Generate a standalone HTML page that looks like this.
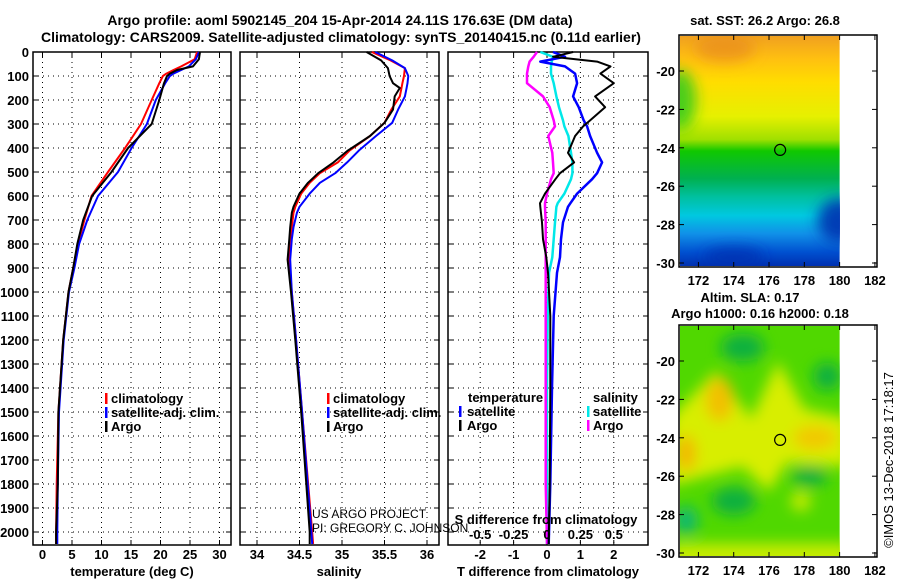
<!DOCTYPE html>
<html><head><meta charset="utf-8">
<style>
html,body{margin:0;padding:0;background:#fff;}
svg{display:block;font-family:"Liberation Sans",Arial,sans-serif;}
.b{font-weight:bold;font-size:13px;}
.n{font-weight:normal;font-size:12px;}
.t{font-weight:bold;font-size:14px;}
</style></head>
<body>
<svg id="fig" width="900" height="580" viewBox="0 0 900 580" xmlns="http://www.w3.org/2000/svg">
<defs>
<linearGradient id="sstg" x1="0" y1="0" x2="0" y2="1">
<stop offset="0" stop-color="#f0a020"/><stop offset="0.1" stop-color="#ffc010"/>
<stop offset="0.2" stop-color="#ffdd00"/><stop offset="0.35" stop-color="#e6f000"/>
<stop offset="0.45" stop-color="#a0e000"/><stop offset="0.5" stop-color="#10c800"/>
<stop offset="0.62" stop-color="#00b050"/><stop offset="0.7" stop-color="#00c0a0"/>
<stop offset="0.78" stop-color="#00c8e0"/><stop offset="0.86" stop-color="#1090e8"/>
<stop offset="0.94" stop-color="#0050d0"/><stop offset="1" stop-color="#0030b0"/>
</linearGradient>
<filter id="blur" x="-20%" y="-20%" width="140%" height="140%"><feGaussianBlur stdDeviation="7"/></filter>
<clipPath id="clip1"><rect x="680" y="36" width="160" height="230"/></clipPath>
<clipPath id="clip2"><rect x="680" y="326" width="160" height="230"/></clipPath>
</defs>
<g id="titles">
<text class="t" x="340" y="25" text-anchor="middle">Argo profile: aoml 5902145_204 15-Apr-2014 24.11S 176.63E (DM data)</text>
<text class="t" x="341" y="42" text-anchor="middle">Climatology: CARS2009. Satellite-adjusted climatology: synTS_20140415.nc (0.11d earlier)</text>
</g>
<g id="plots"></g>
<g id="maps"></g>
</svg>
<script>
// depth levels (dbar) shared by profiles
const depthT = [0,30,60,75,90,100,130,200,300,400,500,600,700,800,900,1000,1200,1500,1800,2000,2050];
const tempClim = [26.2,25.8,23.5,22.2,21.0,20.4,19.8,18.5,16.7,14.0,11.1,8.3,7.1,6.0,5.2,4.4,3.5,2.7,2.4,2.3,2.3];
const tempSat  = [26.5,26.0,24.8,23.5,22.2,21.6,20.8,19.2,17.7,15.1,12.8,9.4,7.6,6.2,5.4,4.5,3.6,2.8,2.6,2.5,2.5];
const tempArgo = [26.7,26.5,25.5,22.8,21.6,21.1,20.6,19.8,18.5,14.5,11.7,8.4,6.9,5.9,5.2,4.4,3.5,2.7,2.6,2.3,2.3];
const depthS = [0,35,67,100,130,150,185,240,295,350,410,460,505,545,590,645,670,730,780,865,1000,1200,1500,2000,2050];
const salClim = [35.35,35.57,35.74,35.73,35.71,35.70,35.68,35.58,35.50,35.33,35.09,34.95,34.74,34.62,34.52,34.45,34.43,34.41,34.39,34.38,34.41,34.46,34.53,34.65,34.66];
const salSat  = [35.39,35.59,35.74,35.78,35.77,35.76,35.74,35.66,35.59,35.40,35.20,35.06,34.92,34.74,34.62,34.50,34.47,34.43,34.41,34.39,34.41,34.46,34.53,34.64,34.65];
const salArgo = [35.29,35.46,35.54,35.56,35.60,35.68,35.62,35.60,35.50,35.33,35.07,34.90,34.72,34.60,34.50,34.43,34.41,34.39,34.38,34.36,34.40,34.45,34.52,34.62,34.62];
const depthD = [0,20,40,60,90,130,185,230,285,310,350,420,460,505,530,590,630,645,710,780,855,920,1100,1400,1800,2050];
const dTSat  = [0.18,0.54,-0.2,0.54,0.84,0.9,0.78,0.95,1.1,1.2,1.29,1.5,1.65,1.5,1.35,0.9,0.7,0.63,0.48,0.42,0.39,0.3,0.2,0.15,0.1,0.05];
const dTArgo = [0.78,0.18,1.5,1.9,1.6,2.0,1.44,1.74,1.29,1.08,0.84,0.63,0.81,0.39,0.25,-0.06,-0.21,-0.2,-0.15,-0.12,-0.02,0.03,0.1,0.1,0.08,0.05];
const dSSat  = [-0.05,0.045,0.035,0.03,0.03,0.05,0.07,0.09,0.12,0.13,0.16,0.18,0.19,0.19,0.18,0.13,0.08,0.07,0.06,0.05,0.04,0.015,0.005,0,0,0];
const dSArgo = [-0.075,-0.1,-0.13,-0.14,-0.15,-0.15,-0.03,0.02,0.05,0.06,0.01,0.04,0.045,0.05,0.03,0.0,-0.015,-0.015,-0.01,-0.01,-0.01,-0.01,-0.01,-0.01,-0.01,0];
const depthTicks = [0,100,200,300,400,500,600,700,800,900,1000,1100,1200,1300,1400,1500,1600,1700,1800,1900,2000];
const tempTicks = [0,5,10,15,20,25,30];
const salTicks = [34,34.5,35,35.5,36];
const salTickLabels = ["34","34.5","35","35.5","36"];
const dTTicks = [-2,-1,0,1,2];
const dSTicks = [-0.5,-0.25,0,0.25,0.5];
const dSTickLabels = ["-0.5","-0.25","0","0.25","0.5"];
const lonTicks = [172,174,176,178,180,182];
const latTicks = [-20,-22,-24,-26,-28,-30];
const argoLon = 176.63, argoLat = -24.11;

const NS="http://www.w3.org/2000/svg";
function mk(tag,attrs,parent){const e=document.createElementNS(NS,tag);for(const k in attrs)e.setAttribute(k,attrs[k]);parent.appendChild(e);return e;}
const plots=document.getElementById('plots');
const yD = d => 52 + d*0.24;
const PT=52, PB=545;

function panel(name,x0,x1,xfun,ticks,labels){
  const g=mk('g',{},plots);
  
  
  ticks.forEach(t=>{const x=xfun(t);mk('line',{x1:x,x2:x,y1:PT,y2:PB,stroke:'#000','stroke-width':1,'stroke-dasharray':'1,4'},g);});
  depthTicks.forEach(d=>{const y=yD(d);mk('line',{x1:x0,x2:x1,y1:y,y2:y,stroke:'#000','stroke-width':1,'stroke-dasharray':'1,4'},g);
    mk('line',{x1:x0,x2:x0+5,y1:y,y2:y,stroke:'#000'},g);mk('line',{x1:x1-5,x2:x1,y1:y,y2:y,stroke:'#000'},g);});
  ticks.forEach(t=>{const x=xfun(t);mk('line',{x1:x,x2:x,y1:PB-5,y2:PB,stroke:'#000'},g);mk('line',{x1:x,x2:x,y1:PT,y2:PT+5,stroke:'#000'},g);});
  const r=mk('rect',{x:x0,y:PT,width:x1-x0,height:PB-PT,fill:'none',stroke:'#000','stroke-width':1.5},g);
  
  
  ticks.forEach((t,i)=>{const tx=mk('text',{x:xfun(t),y:559,'text-anchor':'middle',class:'b'},g);tx.textContent=labels[i];
    
    });
  return g;
}
function line(g,xs,ds,xfun,col,w,name){
  const pts=xs.map((v,i)=>xfun(v).toFixed(1)+','+yD(ds[i]).toFixed(1)).join(' ');
  const p=mk('polyline',{points:pts,fill:'none',stroke:col,'stroke-width':w,'stroke-linejoin':'round'},g);
  
  
}
function txt(g,x,y,s,cls,anchor,name,extra){const t=mk('text',Object.assign({x:x,y:y,class:cls,'text-anchor':anchor||'start'},extra||{}),g);t.textContent=s;
  
  return t;}
function legendMark(g,x,y,col,name){const r=mk('rect',{x:x,y:y-10,width:2.5,height:11,fill:col},g);
  
  }

// Panel 1: temperature
const xT = t => 42.5 + t*5.9;
const g1=panel('temperature-panel',33,231,xT,tempTicks,tempTicks.map(String));
depthTicks.forEach(d=>txt(g1,29,yD(d)+5,String(d),'b','end','y-tick-label'));
line(g1,tempClim,depthT,xT,'#f00',2,'temperature-climatology-line');
line(g1,tempSat,depthT,xT,'#00f',2,'temperature-satellite-line');
line(g1,tempArgo,depthT,xT,'#000',2,'temperature-argo-line');
txt(g1,132,576,'temperature (deg C)','b','middle','x-axis-title-temperature');
legendMark(g1,105,403,'#f00','legend-climatology-mark');txt(g1,111,403,'climatology','b','start','legend-climatology');
legendMark(g1,105,417,'#00f','legend-satellite-mark');txt(g1,111,417,'satellite-adj. clim.','b','start','legend-satellite');
legendMark(g1,105,431,'#000','legend-argo-mark');txt(g1,111,431,'Argo','b','start','legend-argo');

// Panel 2: salinity
const xS = s => 257 + (s-34)*85;
const g2=panel('salinity-panel',240,439,xS,salTicks,salTickLabels);
line(g2,salClim,depthS,xS,'#f00',2,'salinity-climatology-line');
line(g2,salSat,depthS,xS,'#00f',2,'salinity-satellite-line');
line(g2,salArgo,depthS,xS,'#000',2,'salinity-argo-line');
txt(g2,339,576,'salinity','b','middle','x-axis-title-salinity');
legendMark(g2,327,403,'#f00','legend-climatology-mark');txt(g2,333,403,'climatology','b','start','legend-climatology');
legendMark(g2,327,417,'#00f','legend-satellite-mark');txt(g2,333,417,'satellite-adj. clim.','b','start','legend-satellite');
legendMark(g2,327,431,'#000','legend-argo-mark');txt(g2,333,431,'Argo','b','start','legend-argo');

// Panel 3: differences
const xdT = v => 547 + v*33.4;
const xdS = v => 547 + v*133.6;
const g3=panel('difference-panel',448,648,xdT,dTTicks,dTTicks.map(String));
line(g3,dSSat,depthD,xdS,'#00e8e8',2.5,'salinity-diff-satellite-line');
line(g3,dSArgo,depthD,xdS,'#f0f',2.5,'salinity-diff-argo-line');
line(g3,dTSat,depthD,xdT,'#00f',2.5,'temperature-diff-satellite-line');
line(g3,dTArgo,depthD,xdT,'#000',2,'temperature-diff-argo-line');
dSTicks.forEach((t,i)=>txt(g3,xdS(t),539,dSTickLabels[i],'b','middle','s-diff-tick-label'));
txt(g3,546,524,'S difference from climatology','b','middle','s-diff-axis-title');
txt(g3,548,576,'T difference from climatology','b','middle','x-axis-title-tdiff');
txt(g3,468,402,'temperature','b','start','legend-temperature-header');
legendMark(g3,459,416,'#00f','legend-t-satellite-mark');txt(g3,467,416,'satellite','b','start','legend-t-satellite');
legendMark(g3,459,430,'#000','legend-t-argo-mark');txt(g3,467,430,'Argo','b','start','legend-t-argo');
txt(g3,593,402,'salinity','b','start','legend-salinity-header');
legendMark(g3,587,416,'#00e8e8','legend-s-satellite-mark');txt(g3,593,416,'satellite','b','start','legend-s-satellite');
legendMark(g3,587,430,'#f0f','legend-s-argo-mark');txt(g3,593,430,'Argo','b','start','legend-s-argo');
txt(g2,312,518,'US ARGO PROJECT','n','start','credit-project');
txt(g2,312,532,'PI: GREGORY C. JOHNSON','n','start','credit-pi');

// Maps
const maps=document.getElementById('maps');
const xL = lon => 679 + (lon-170.9)*17.65;
function map(name,top,lat20y,fillFn){
  const g=mk('g',{},maps);
  
  
  const yL = lat => lat20y + (-20-lat)*19.2;
  fillFn(g,yL);
  lonTicks.forEach(l=>{const x=xL(l);mk('line',{x1:x,x2:x,y1:top+232-5,y2:top+232,stroke:'#000'},g);mk('line',{x1:x,x2:x,y1:top,y2:top+5,stroke:'#000'},g);
    txt(g,x,top+250,String(l),'b','middle','map-x-tick-label');});
  latTicks.forEach(l=>{const y=yL(l);mk('line',{x1:872,x2:877,y1:y,y2:y,stroke:'#000'},g);mk('line',{x1:679,x2:684,y1:y,y2:y,stroke:'#000'},g);
    txt(g,675,y+5,String(l),'b','end','map-y-tick-label');});
  const r=mk('rect',{x:679,y:top,width:198,height:232,fill:'none',stroke:'#000','stroke-width':1.5},g);
  
  
  const c=mk('circle',{cx:xL(argoLon),cy:yL(argoLat),r:5.5,fill:'none',stroke:'#000','stroke-width':1.2},g);
  
  
  return g;
}
map('sst-map',35,71,(g,yL)=>{
  const x0=680,x1=xL(180);
  mk('rect',{x:x0,y:36,width:x1-x0,height:230,fill:'url(#sstg)'},g);
  const c=mk('g',{'clip-path':'url(#clip1)'},g);
  const f=mk('g',{filter:'url(#blur)'},c);
  mk('ellipse',{cx:x0,cy:yL(-21.5),rx:16,ry:30,fill:'#20c820',opacity:0.8},f);
  mk('ellipse',{cx:xL(173.5),cy:yL(-18.8),rx:30,ry:14,fill:'#e88a20',opacity:0.7},f);
  mk('ellipse',{cx:x1,cy:yL(-27.8),rx:22,ry:22,fill:'#0030b0',opacity:0.9},f);
  mk('ellipse',{cx:xL(174),cy:yL(-29.7),rx:30,ry:10,fill:'#0030b0',opacity:0.8},f);
});
txt(maps,765,25,'sat. SST: 26.2 Argo: 26.8','b','middle','sst-map-title');
map('sla-map',325,361,(g,yL)=>{
  const x0=680,x1=xL(180);
  mk('rect',{x:x0,y:326,width:x1-x0,height:230,fill:'#50d800'},g);
  const c=mk('g',{'clip-path':'url(#clip2)'},g);
  const f=mk('g',{filter:'url(#blur)'},c);
  mk('path',{d:`M${x0-10},${yL(-23)} L${xL(173)},${yL(-20.5)} L${xL(175)},${yL(-23)} L${xL(176.5)},${yL(-20)} L${xL(178)},${yL(-22.5)} L${x1+10},${yL(-23)} L${x1+10},${yL(-25.5)} L${xL(177)},${yL(-25.3)} L${xL(176)},${yL(-26.8)} L${xL(174.5)},${yL(-25.5)} L${x0-10},${yL(-26.5)} Z`,fill:'#d8ee00'},f);
  mk('ellipse',{cx:xL(173.2),cy:yL(-22),rx:14,ry:22,fill:'#f2c000'},f);
  mk('ellipse',{cx:xL(171.3),cy:yL(-24.8),rx:10,ry:18,fill:'#f2b800'},f);
  mk('ellipse',{cx:xL(178.6),cy:yL(-24),rx:22,ry:12,fill:'#f2c800'},f);
  mk('ellipse',{cx:xL(177.8),cy:yL(-27.3),rx:10,ry:10,fill:'#c8ec00'},f);
  mk('ellipse',{cx:xL(179.3),cy:yL(-20.8),rx:14,ry:14,fill:'#10b040'},f);
  mk('ellipse',{cx:xL(178.3),cy:yL(-26),rx:18,ry:10,fill:'#10b040'},f);
  mk('ellipse',{cx:xL(174),cy:yL(-27.3),rx:22,ry:14,fill:'#10b040'},f);
  mk('ellipse',{cx:xL(171.3),cy:yL(-28.3),rx:12,ry:14,fill:'#10b870'},f);
  mk('ellipse',{cx:xL(174.5),cy:yL(-19.3),rx:22,ry:14,fill:'#10b040'},f);
  mk('rect',{x:x0-10,y:yL(-29.5),width:x1-x0+20,height:25,fill:'#c8ec00'},f);
});
txt(maps,750,302,'Altim. SLA: 0.17','b','middle','sla-map-title');
txt(maps,760,318,'Argo h1000: 0.16 h2000: 0.18','b','middle','sla-map-subtitle');
txt(maps,0,0,'©IMOS 13-Dec-2018 17:18:17','n','middle','imos-timestamp',{transform:'translate(893,460) rotate(-90)',style:'font-size:13px'});
</script>
</body></html>
